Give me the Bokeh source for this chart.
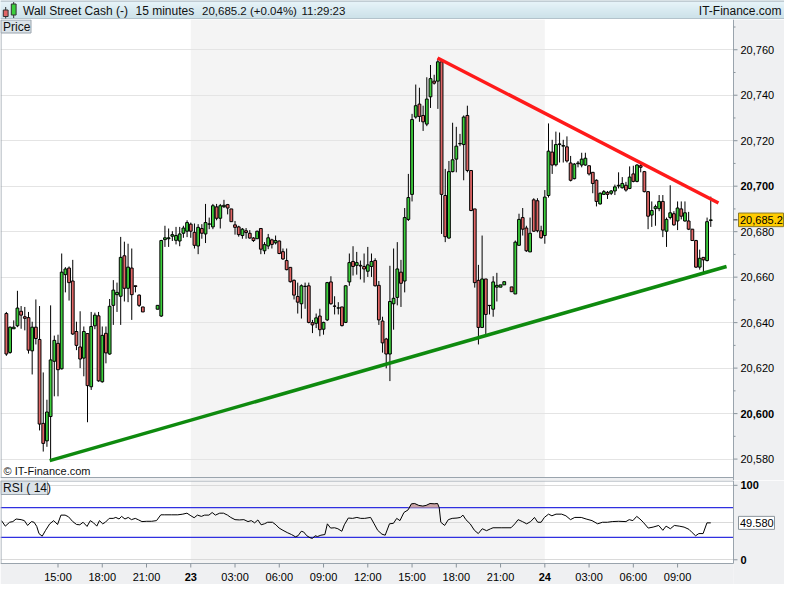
import numpy as np
from bokeh.plotting import figure
from bokeh.layouts import column
from bokeh.models import (Range1d, SingleIntervalTicker, FixedTicker, Grid,
                          Span, ColumnDataSource)
from bokeh.core.properties import value
from bokeh.embed import file_html
from bokeh.resources import INLINE

# ---------------- data (hours counted from day 22, 00:00) ----------------
times = [11.5, 11.75, 12.0, 12.25, 12.5, 12.75, 13.0, 13.25, 13.5, 13.75,
         14.0, 14.25, 14.5, 14.75, 15.0, 15.25, 15.5, 15.75, 16.0, 16.25,
         16.5, 16.75, 17.0, 17.25, 17.5, 17.75, 18.0, 18.25, 18.5, 18.75,
         19.0, 19.25, 19.5, 19.75, 20.0, 20.25, 20.5, 20.75, 21.75, 22.0,
         22.25, 22.5, 22.75, 23.0, 23.25, 23.5, 23.75, 24.0, 24.25, 24.5,
         24.75, 25.0, 25.25, 25.5, 25.75, 26.0, 26.25, 26.5, 26.75, 27.0,
         27.25, 27.5, 27.75, 28.0, 28.25, 28.5, 28.75, 29.0, 29.25, 29.5,
         29.75, 30.0, 30.25, 30.5, 30.75, 31.0, 31.25, 31.5, 31.75, 32.0,
         32.25, 32.5, 32.75, 33.0, 33.25, 33.5, 33.75, 34.0, 34.25, 34.5,
         34.75, 35.0, 35.25, 35.5, 35.75, 36.0, 36.25, 36.5, 36.75, 37.0,
         37.25, 37.5, 37.75, 38.0, 38.25, 38.5, 38.75, 39.0, 39.25, 39.5,
         39.75, 40.0, 40.25, 40.5, 40.75, 41.0, 41.25, 41.5, 41.75, 42.0,
         42.25, 42.5, 42.75, 43.0, 43.25, 43.5, 43.75, 44.0, 44.25, 44.5,
         44.75, 45.0, 45.25, 45.75, 46.0, 46.25, 46.5, 46.75, 47.0, 47.25,
         47.5, 47.75, 48.0, 48.25, 48.5, 48.75, 49.0, 49.25, 49.5, 49.75,
         50.0, 50.25, 50.5, 50.75, 51.0, 51.25, 51.5, 51.75, 52.0, 52.25,
         52.5, 52.75, 53.0, 53.25, 53.5, 53.75, 54.0, 54.25, 54.5, 54.75,
         55.0, 55.25, 55.5, 55.75, 56.0, 56.25, 56.5, 56.75, 57.0, 57.25,
         57.5, 57.75, 58.0, 58.25, 58.5, 58.75, 59.0, 59.25]

opens = [20644.0, 20626.9, 20637.3, 20638.6, 20645.0, 20642.6, 20642.2, 20627.6, 20638.0, 20632.6,
         20595.7, 20588.0, 20598.7, 20623.0, 20630.9, 20619.7, 20661.1, 20664.0, 20658.3, 20636.1,
         20629.3, 20624.4, 20635.2, 20611.8, 20638.6, 20643.0, 20614.0, 20635.3, 20626.2, 20647.6,
         20652.3, 20651.6, 20669.4, 20655.1, 20664.0, 20656.2, 20652.1, 20646.9, 20645.9, 20642.9,
         20676.5, 20676.9, 20678.0, 20676.2, 20675.9, 20679.3, 20680.2, 20683.3, 20679.7, 20673.7,
         20681.4, 20679.0, 20683.3, 20682.1, 20690.9, 20685.9, 20691.0, 20691.9, 20690.0, 20683.0,
         20682.1, 20678.3, 20680.4, 20679.3, 20677.2, 20676.9, 20681.4, 20671.6, 20673.7, 20676.4,
         20675.1, 20675.9, 20671.2, 20667.3, 20664.3, 20658.6, 20651.5, 20648.3, 20655.9, 20656.2,
         20640.0, 20639.7, 20642.9, 20637.1, 20641.2, 20657.9, 20647.3, 20646.4, 20646.9, 20640.1,
         20657.9, 20666.9, 20665.2, 20665.2, 20664.7, 20662.6, 20664.7, 20667.3, 20656.4, 20640.7,
         20632.8, 20626.2, 20648.3, 20651.1, 20662.2, 20658.3, 20685.4, 20696.4, 20730.4, 20736.1,
         20731.1, 20727.3, 20739.3, 20746.2, 20746.2, 20754.7, 20695.9, 20677.2, 20706.4, 20711.9,
         20718.6, 20718.3, 20731.1, 20706.9, 20690.0, 20658.6, 20637.9, 20659.2, 20647.6, 20645.9,
         20655.6, 20655.6, 20656.6, 20655.7, 20652.6, 20674.0, 20686.2, 20681.6, 20671.1, 20694.0,
         20693.6, 20680.4, 20678.3, 20695.9, 20715.0, 20709.4, 20718.3, 20717.6, 20717.3, 20710.2,
         20703.3, 20709.9, 20709.3, 20709.3, 20709.0, 20706.1, 20702.6, 20692.2, 20696.4, 20697.3,
         20696.9, 20697.9, 20700.1, 20699.3, 20700.4, 20699.0, 20705.4, 20702.1, 20709.0, 20706.4,
         20697.6, 20687.3, 20690.1, 20690.1, 20693.3, 20680.2, 20686.2, 20687.9, 20684.7, 20690.0,
         20684.7, 20684.7, 20681.1, 20676.1, 20664.4, 20668.7, 20667.3, 20684.9]

highs = [20644.7, 20638.3, 20641.0, 20654.0, 20647.3, 20646.9, 20644.7, 20640.4, 20650.2, 20647.3,
         20618.1, 20606.1, 20647.6, 20634.3, 20634.7, 20670.4, 20664.4, 20664.7, 20667.6, 20640.4,
         20645.0, 20638.3, 20635.4, 20644.7, 20644.4, 20644.7, 20638.3, 20638.3, 20650.4, 20658.7,
         20657.6, 20677.7, 20675.6, 20674.7, 20672.6, 20656.2, 20652.4, 20646.9, 20647.6, 20676.4,
         20682.6, 20681.4, 20680.2, 20682.1, 20682.1, 20682.6, 20685.0, 20684.0, 20683.6, 20683.3,
         20683.3, 20692.2, 20686.2, 20692.2, 20692.2, 20692.2, 20694.0, 20692.2, 20690.0, 20684.7,
         20682.6, 20681.6, 20681.6, 20680.7, 20677.6, 20680.4, 20681.4, 20675.4, 20679.0, 20676.9,
         20678.3, 20676.1, 20672.6, 20672.6, 20664.3, 20659.0, 20657.6, 20656.8, 20657.6, 20657.6,
         20641.2, 20644.0, 20646.1, 20640.4, 20657.9, 20660.4, 20651.6, 20649.0, 20646.9, 20656.4,
         20670.4, 20673.6, 20671.1, 20667.3, 20670.4, 20673.3, 20670.4, 20668.3, 20658.3, 20642.6,
         20633.3, 20665.0, 20672.6, 20675.4, 20667.6, 20690.4, 20705.4, 20731.8, 20744.7, 20743.3,
         20735.4, 20747.9, 20753.3, 20749.0, 20756.1, 20755.4, 20707.6, 20711.1, 20727.9, 20726.1,
         20723.0, 20731.1, 20735.4, 20706.9, 20690.0, 20665.4, 20678.3, 20659.2, 20647.6, 20660.4,
         20661.9, 20656.6, 20658.0, 20655.7, 20676.1, 20687.9, 20690.4, 20682.6, 20686.2, 20694.7,
         20694.7, 20682.6, 20698.3, 20727.6, 20720.4, 20724.0, 20723.6, 20720.4, 20721.9, 20713.3,
         20710.2, 20711.1, 20714.7, 20714.7, 20709.0, 20706.1, 20703.0, 20697.3, 20698.3, 20697.9,
         20698.3, 20700.7, 20706.1, 20704.0, 20701.9, 20708.7, 20709.0, 20709.7, 20709.7, 20706.7,
         20697.9, 20693.3, 20691.9, 20696.1, 20696.1, 20686.2, 20700.4, 20689.0, 20693.3, 20693.3,
         20693.3, 20688.7, 20681.1, 20676.4, 20672.1, 20668.7, 20686.2, 20695.4]

lows = [20625.4, 20626.3, 20637.3, 20638.0, 20637.3, 20636.6, 20626.4, 20617.2, 20630.4, 20592.6,
        20583.3, 20585.4, 20579.3, 20607.6, 20607.6, 20619.4, 20653.3, 20649.7, 20634.6, 20627.9,
        20620.0, 20616.4, 20596.2, 20610.4, 20637.1, 20614.0, 20613.6, 20622.1, 20625.9, 20639.0,
        20644.7, 20639.0, 20649.3, 20649.0, 20641.2, 20653.3, 20646.9, 20644.7, 20645.9, 20642.5,
        20673.3, 20673.3, 20675.9, 20674.4, 20673.6, 20677.3, 20677.6, 20677.3, 20672.6, 20670.1,
        20676.9, 20675.0, 20681.1, 20681.1, 20685.0, 20681.4, 20690.4, 20687.6, 20684.4, 20678.7,
        20677.8, 20676.9, 20676.9, 20676.9, 20675.5, 20676.9, 20670.1, 20670.1, 20672.3, 20672.6,
        20674.4, 20670.1, 20667.6, 20663.0, 20657.6, 20650.2, 20644.0, 20641.8, 20646.1, 20639.7,
        20635.4, 20637.6, 20634.0, 20634.7, 20640.7, 20647.9, 20643.6, 20643.6, 20638.3, 20639.8,
        20656.2, 20660.7, 20661.1, 20659.0, 20657.6, 20660.1, 20660.1, 20655.9, 20639.0, 20626.8,
        20619.9, 20614.3, 20636.9, 20647.6, 20646.9, 20653.3, 20684.7, 20693.3, 20729.7, 20728.3,
        20724.3, 20726.4, 20734.4, 20744.7, 20734.0, 20679.0, 20675.4, 20676.9, 20706.1, 20706.1,
        20717.6, 20702.6, 20706.1, 20689.0, 20655.4, 20630.4, 20637.6, 20634.7, 20643.6, 20642.6,
        20649.3, 20655.6, 20656.6, 20653.6, 20652.6, 20674.0, 20678.3, 20671.1, 20671.1, 20679.9,
        20679.7, 20676.9, 20674.7, 20695.0, 20705.4, 20708.7, 20710.4, 20710.4, 20710.4, 20702.1,
        20703.0, 20708.3, 20708.3, 20709.0, 20704.7, 20696.9, 20691.1, 20691.9, 20696.1, 20694.4,
        20696.1, 20696.1, 20699.0, 20699.0, 20697.6, 20698.7, 20701.7, 20701.7, 20706.1, 20697.3,
        20681.1, 20682.1, 20682.6, 20689.0, 20677.6, 20673.3, 20685.4, 20682.6, 20680.7, 20685.4,
        20684.4, 20680.7, 20675.9, 20664.0, 20663.3, 20661.9, 20666.9, 20682.1]

closes = [20626.2, 20638.0, 20638.0, 20646.4, 20643.3, 20641.9, 20627.9, 20638.0, 20633.0, 20595.4,
          20586.9, 20600.7, 20623.6, 20632.2, 20619.3, 20662.2, 20663.6, 20657.6, 20635.0, 20630.0,
          20624.0, 20636.1, 20612.3, 20638.3, 20643.3, 20614.4, 20634.4, 20626.7, 20647.2, 20654.3,
          20653.3, 20668.7, 20655.1, 20664.4, 20652.3, 20655.9, 20647.6, 20644.7, 20647.6, 20676.1,
          20677.3, 20677.3, 20678.7, 20678.3, 20679.0, 20681.6, 20684.0, 20680.2, 20674.0, 20681.9,
          20679.3, 20684.0, 20683.4, 20691.4, 20685.9, 20691.4, 20691.6, 20690.4, 20684.4, 20681.9,
          20678.7, 20681.1, 20679.6, 20677.2, 20676.1, 20680.2, 20672.3, 20674.3, 20677.3, 20674.4,
          20676.1, 20670.4, 20668.0, 20663.3, 20658.0, 20652.1, 20649.0, 20656.2, 20656.0, 20640.1,
          20639.0, 20642.1, 20636.9, 20640.1, 20657.6, 20648.3, 20647.2, 20646.5, 20638.7, 20656.2,
          20666.4, 20664.7, 20666.4, 20664.9, 20663.6, 20665.4, 20666.9, 20656.2, 20641.2, 20631.1,
          20626.2, 20649.3, 20650.7, 20663.6, 20657.3, 20686.2, 20695.0, 20729.3, 20735.4, 20730.7,
          20728.3, 20738.3, 20747.3, 20745.3, 20754.7, 20696.4, 20677.8, 20706.4, 20711.6, 20717.6,
          20718.8, 20730.4, 20706.9, 20689.3, 20657.6, 20637.9, 20659.2, 20643.6, 20647.5, 20657.9,
          20656.4, 20656.6, 20658.0, 20653.6, 20675.4, 20685.4, 20681.1, 20671.6, 20679.3, 20680.2,
          20680.4, 20677.3, 20695.2, 20715.4, 20709.3, 20718.3, 20718.6, 20717.9, 20711.1, 20702.6,
          20709.7, 20710.2, 20711.9, 20712.3, 20705.4, 20701.2, 20693.3, 20696.9, 20697.6, 20696.4,
          20697.9, 20699.7, 20700.4, 20701.2, 20698.3, 20704.0, 20702.1, 20709.3, 20708.3, 20697.6,
          20686.8, 20689.3, 20691.0, 20693.3, 20680.7, 20685.4, 20688.3, 20683.0, 20690.4, 20686.8,
          20688.3, 20681.1, 20676.1, 20664.4, 20668.3, 20667.6, 20684.4, 20685.2]

# trend lines drawn on the chart
red_t, red_p = [40.73, 59.77], [20756.4, 20692.6]
green_t, green_p = [14.44, 60.32], [20579.3, 20664.7]

# RSI(14) line vertices
rsi_t = [11.17, 11.43, 11.72, 11.94, 12.16, 12.50, 12.72, 12.94, 13.20, 13.38,
         13.56, 13.71, 13.93, 14.16, 14.44, 14.71, 14.97, 15.20, 15.48, 15.71,
         16.00, 16.26, 16.48, 16.70, 16.97, 17.19, 17.41, 17.63, 17.81, 18.03,
         18.21, 18.47, 18.74, 18.92, 19.14, 19.31, 19.54, 19.76, 19.98, 20.24,
         20.47, 20.69, 21.02, 21.35, 21.68, 21.97, 22.24, 22.68, 23.12, 23.46,
         23.74, 24.01, 24.23, 24.45, 24.72, 24.94, 25.23, 25.45, 25.67, 25.96,
         26.22, 26.49, 26.71, 27.00, 27.29, 27.60, 27.88, 28.10, 28.33, 28.55,
         28.77, 28.99, 29.21, 29.54, 29.77, 29.99, 30.25, 30.54, 30.83, 31.09,
         31.27, 31.49, 31.65, 31.87, 32.09, 32.25, 32.42, 32.60, 32.82, 33.09,
         33.26, 33.48, 33.75, 33.97, 34.24, 34.41, 34.68, 34.97, 35.26, 35.52,
         35.79, 36.19, 36.41, 36.67, 36.96, 37.18, 37.47, 37.74, 37.96, 38.18,
         38.45, 38.73, 38.96, 39.18, 39.46, 39.73, 39.95, 40.22, 40.50, 40.73,
         40.84, 40.95, 41.21, 41.46, 41.72, 42.05, 42.28, 42.45, 42.65, 42.94,
         43.23, 43.49, 43.76, 44.05, 44.33, 44.49, 45.04, 45.71, 45.97, 46.19,
         46.48, 46.77, 47.04, 47.30, 47.52, 47.75, 47.97, 48.25, 48.48, 48.76,
         49.14, 49.43, 49.74, 50.03, 50.47, 50.80, 51.20, 51.58, 51.91, 52.24,
         52.57, 53.01, 53.50, 53.72, 53.97, 54.23, 54.45, 54.67, 55.01, 55.34,
         55.72, 56.00, 56.22, 56.51, 56.78, 57.11, 57.44, 57.77, 57.99, 58.22,
         58.44, 58.73, 58.99, 59.25]
rsi_v = [52.6, 45.2, 50.4, 51.3, 54.8, 53.9, 52.6, 46.1, 51.3, 50.4,
         44.8, 35.2, 31.7, 39.6, 48.3, 52.6, 47.4, 60.0, 60.0, 57.8,
         51.3, 47.4, 47.0, 50.4, 44.8, 52.6, 49.6, 45.2, 52.6, 48.3,
         50.4, 55.6, 55.6, 56.9, 54.8, 58.3, 54.8, 56.9, 53.9, 55.6,
         53.5, 51.3, 51.7, 51.7, 52.6, 60.4, 60.4, 60.4, 60.4, 61.3,
         62.6, 59.1, 56.5, 60.0, 58.3, 60.0, 60.0, 63.5, 60.0, 62.6,
         62.6, 60.0, 56.9, 53.9, 53.5, 53.9, 51.3, 52.6, 49.6, 53.5,
         47.0, 48.3, 50.4, 50.4, 47.0, 42.6, 39.6, 36.5, 33.9, 30.9,
         32.2, 38.3, 37.4, 32.2, 29.6, 28.7, 32.2, 31.3, 33.0, 33.9,
         48.3, 42.6, 43.0, 41.7, 38.3, 47.0, 56.1, 55.6, 56.9, 55.6,
         55.6, 56.9, 49.1, 39.6, 34.4, 33.0, 48.3, 49.0, 55.6, 52.6,
         63.5, 67.0, 75.2, 75.6, 73.0, 72.2, 73.0, 75.6, 75.2, 75.6,
         70.0, 50.4, 46.1, 53.9, 55.6, 56.1, 56.9, 60.0, 53.9, 48.3,
         39.6, 35.2, 41.7, 39.1, 41.7, 43.0, 43.0, 43.0, 48.3, 53.9,
         51.3, 48.3, 51.3, 56.9, 50.4, 50.4, 56.9, 61.3, 59.1, 61.3,
         61.3, 59.1, 53.9, 56.9, 56.9, 54.8, 52.6, 48.3, 50.4, 50.4,
         51.3, 51.7, 51.3, 53.9, 52.6, 58.3, 54.8, 50.4, 42.6, 43.9,
         46.1, 39.6, 45.2, 41.7, 46.1, 45.2, 43.9, 40.9, 36.5, 32.2,
         35.2, 35.2, 49.6, 49.58]

# axis ticks and labels
price_ticks = [20580, 20600, 20620, 20640, 20660, 20680, 20700, 20720, 20740, 20760]
price_labels = ["20,580", "20,600", "20,620", "20,640", "20,660", "20,680", "20,700",
                "20,720", "20,740", "20,760"]
price_bold = [20600, 20700]
price_minor = [20590, 20610, 20630, 20650, 20670, 20690, 20710, 20730, 20750, 20770]
rsi_ticks, rsi_labels = [0, 100], ["0", "100"]
rsi_levels = [30, 70]
tick_hours = [15, 18, 21, 24, 27, 30, 33, 36, 39, 42, 45, 48, 51, 54, 57]
tick_text = ["15:00", "18:00", "21:00", "23", "03:00", "06:00", "09:00", "12:00",
             "15:00", "18:00", "21:00", "24", "03:00", "06:00", "09:00"]
day_ticks = [24, 48]
day23 = (24, 48)
last_price, last_price_text = 20685.2, "20,685.2"
last_rsi, last_rsi_text = 49.58, "49.580"

# ---------------- geometry / styling ----------------
FONT = "Liberation Sans"
W = 784
PXH = 14.752                 # pixels per hour
X0 = 11.17                   # first hour at the plot's left edge
XA = X0 - 1 / PXH            # figure left edge
XB = X0 + 783 / PXH          # figure right edge
X1 = X0 + 732 / PXH          # right edge of plotting area (axis panel starts)
Y0, Y1 = 20571.9, 20773.3    # price range of the main panel
PPP = (Y1 - Y0) / 458        # price per pixel
YA = Y1 - 461 * PPP
R0, R1 = -5.0, 106.5
RPP = (R1 - R0) / 83
RA = R1 - 104 * RPP
BORDER = "#eff0f2"
EDGE = "#9aa4ad"
TICK = "#8a949c"
GREEN, RED = "#3ccf3c", "#e06666"
F = value(FONT)


def mx(px):
    return XA + px / PXH


def ax_x(px):
    return X1 + px / PXH


xr = Range1d(XA, XB)

# ---- header bar ----
hd = figure(width=W, height=19, x_range=Range1d(0, W), y_range=Range1d(19, 0),
            x_axis_location=None, y_axis_location=None, toolbar_location=None,
            output_backend="svg", min_border=0, outline_line_color=None,
            background_fill_color="#dcedf3", border_fill_color="#dcedf3")
hd.xgrid.visible = False
hd.ygrid.visible = False
c0 = np.array([236, 248, 252]); c1 = np.array([197, 220, 229])
rows = np.arange(19)
cols = ["#%02x%02x%02x" % tuple((c0 + (c1 - c0) * i / 18).astype(int)) for i in rows]
hd.quad(left=0, right=W, top=rows, bottom=rows + 1, fill_color=cols, line_color=None)
hd.segment(x0=[0, 0], y0=[0.5, 18.5], x1=[W, W], y1=[0.5, 18.5], line_color=EDGE, line_width=1)
hd.segment(x0=[5.2, 13.2], y0=[6.5, 1.5], x1=[5.2, 13.2], y1=[18, 17.5], line_color="#333333")
hd.quad(left=[2.8, 10.8], right=[7.6, 15.6], top=[9.5, 3.5], bottom=[16, 14.5],
        fill_color=[RED, GREEN], line_color="#333333")
hd.text(x=[22.5, 135], y=[10, 10], text=["Wall Street Cash (-)", "15 minutes"],
        text_font=F, text_font_size="12px", text_baseline="middle", text_color="#111111")
hd.text(x=[201.5, 301], y=[10, 10], text=["20,685.2 (+0.04%)", "11:29:23"],
        text_font=F, text_font_size="11.5px", text_baseline="middle", text_color="#111111")
hd.text(x=[781], y=[10], text=["IT-Finance.com"], text_font=F, text_font_size="12px",
        text_baseline="middle", text_align="right", text_color="#111111")

# ---- main price chart ----
p = figure(width=W, height=461, x_range=xr, y_range=Range1d(YA, Y1),
           x_axis_location=None, y_axis_location=None, toolbar_location=None,
           output_backend="svg", min_border=0, outline_line_color=None,
           background_fill_color="white", border_fill_color=BORDER)
p.xgrid.visible = False
p.ygrid.visible = False
p.add_layout(Grid(dimension=1, ticker=SingleIntervalTicker(interval=20),
                  grid_line_color="#e4e4e4"))
p.quad(left=[day23[0]], right=[day23[1]], bottom=[Y0], top=[Y1],
       fill_color="#f4f4f4", line_color=None, level="image")

tops = [max(o, c) for o, c in zip(opens, closes)]
bots = [min(o, c) for o, c in zip(opens, closes)]
colors = [GREEN if c > o else RED for o, c in zip(opens, closes)]
src = ColumnDataSource(dict(t=times, o=opens, h=highs, l=lows, c=closes,
                            top=tops, bottom=bots, color=colors))
p.segment(x0="t", y0="h", x1="t", y1="l", line_color="black", line_width=1, source=src)
p.vbar(x="t", width=0.19, top="top", bottom="bottom", fill_color="color",
       line_color="black", line_width=1, source=src)

p.line(red_t, red_p, line_color="#ff1a1a", line_width=3.5)
p.line(green_t, green_p, line_color="#0e8a0e", line_width=3.5)

# right-hand price scale panel and frame edges
p.quad(left=[X1], right=[XB], bottom=[YA], top=[Y1], fill_color=BORDER, line_color=None)
p.quad(left=[XA], right=[X1], bottom=[YA], top=[Y0], fill_color=BORDER, line_color=None)
p.segment(x0=[X1, XA, mx(0.5)], y0=[YA, Y0, Y0], x1=[X1, X1, mx(0.5)], y1=[Y1, Y0, Y1],
          line_color=EDGE, line_width=1)
p.segment(x0=[X1] * len(price_ticks), y0=price_ticks,
          x1=[ax_x(4)] * len(price_ticks), y1=price_ticks, line_color=TICK)
p.segment(x0=[X1] * len(price_minor), y0=price_minor,
          x1=[ax_x(2)] * len(price_minor), y1=price_minor, line_color=TICK)
norm = [(v, t) for v, t in zip(price_ticks, price_labels) if v not in price_bold]
bold = [(v, t) for v, t in zip(price_ticks, price_labels) if v in price_bold]
p.text(x=[ax_x(7)] * len(norm), y=[v for v, _ in norm], text=[t for _, t in norm],
       text_font=F, text_font_size="11px", text_baseline="middle", text_color="#000000")
p.text(x=[ax_x(7)] * len(bold), y=[v for v, _ in bold], text=[t for _, t in bold],
       text_font=F, text_font_size="11px", text_font_style="bold",
       text_baseline="middle", text_color="#000000")
# current price marker
p.segment(x0=[X1], y0=[last_price], x1=[ax_x(4)], y1=[last_price], line_color="#333333")
p.quad(left=[ax_x(5)], right=[ax_x(50)], bottom=[last_price - 6.8 * PPP],
       top=[last_price + 6.8 * PPP], fill_color="#ffcc00", line_color="#8c7a2a")
p.text(x=[ax_x(6.5)], y=[last_price], text=[last_price_text], text_font=F,
       text_font_size="11px", text_baseline="middle", text_color="#000000")
# panel caption and copyright
p.quad(left=[mx(0.5)], right=[mx(30.5)], top=[Y1 - 0.5 * PPP], bottom=[Y1 - 13.5 * PPP],
       fill_color="#dbe3e9", line_color=EDGE)
p.text(x=[mx(2.5)], y=[Y1 - 7 * PPP], text=["Price"], text_font=F, text_font_size="12px",
       text_baseline="middle", text_color="#111111")
p.text(x=[mx(3)], y=[Y0 + 6.5 * PPP], text=["\u00a9 IT-Finance.com"], text_font=F,
       text_font_size="11px", text_baseline="middle", text_color="#111111")

# ---- RSI panel with time scale ----
r = figure(width=W, height=104, x_range=xr, y_range=Range1d(RA, R1),
           x_axis_location=None, y_axis_location=None, toolbar_location=None,
           output_backend="svg", min_border=0, outline_line_color=None,
           background_fill_color="white", border_fill_color=BORDER)
r.xgrid.visible = False
r.ygrid.visible = False
r.add_layout(Grid(dimension=1, ticker=FixedTicker(ticks=[0, 50, 100]),
                  grid_line_color="#dadada"))
r.quad(left=[day23[0]], right=[day23[1]], bottom=[R0], top=[R1],
       fill_color="#f4f4f4", line_color=None, level="image")
for lv in rsi_levels:
    r.add_layout(Span(location=lv, dimension="width", line_color="#3030e0",
                      line_width=1.2, level="underlay"))
r.varea(x=rsi_t, y1=[70] * len(rsi_t), y2=list(np.maximum(rsi_v, 70)),
        fill_color="#c79c9c", fill_alpha=0.9)
r.line(rsi_t, rsi_v, line_color="black", line_width=1)

r.quad(left=[X1], right=[XB], bottom=[RA], top=[R1], fill_color=BORDER, line_color=None)
r.quad(left=[XA], right=[X1], bottom=[RA], top=[R0], fill_color=BORDER, line_color=None)
r.segment(x0=[X1, XA, XA, mx(0.5)], y0=[R0, R0, R1 - 0.5 * RPP, R0],
          x1=[X1, X1, X1, mx(0.5)], y1=[R1, R0, R1 - 0.5 * RPP, R1],
          line_color=EDGE, line_width=1)
r.segment(x0=[X1] * 2, y0=rsi_ticks, x1=[ax_x(4)] * 2, y1=rsi_ticks, line_color=TICK)
r.text(x=[ax_x(7)] * 2, y=rsi_ticks, text=rsi_labels, text_font=F, text_font_size="11px",
       text_font_style="bold", text_baseline="middle", text_color="#000000")
r.quad(left=[ax_x(5)], right=[ax_x(41)], bottom=[last_rsi - 6.5 * RPP],
       top=[last_rsi + 6.5 * RPP], fill_color="white", line_color=TICK)
r.text(x=[ax_x(6.5)], y=[last_rsi], text=[last_rsi_text], text_font=F,
       text_font_size="11px", text_baseline="middle", text_color="#000000")
r.quad(left=[mx(0.5)], right=[mx(47)], top=[R1 - 0.5 * RPP], bottom=[R1 - 14 * RPP],
       fill_color="#dbe3e9", line_color=EDGE)
r.text(x=[mx(2.5)], y=[R1 - 7.3 * RPP], text=["RSI ( 14)"], text_font=F,
       text_font_size="12px", text_baseline="middle", text_color="#111111")

# time scale
r.segment(x0=tick_hours, y0=[R0] * len(tick_hours), x1=tick_hours,
          y1=[R0 - 4 * RPP] * len(tick_hours), line_color=TICK)
tn = [(h, t) for h, t in zip(tick_hours, tick_text) if h not in day_ticks]
tb = [(h, t) for h, t in zip(tick_hours, tick_text) if h in day_ticks]
r.text(x=[h for h, _ in tn], y=[R0 - 13 * RPP] * len(tn), text=[t for _, t in tn],
       text_font=F, text_font_size="11px", text_align="center", text_baseline="middle",
       text_color="#000000")
r.text(x=[h for h, _ in tb], y=[R0 - 13 * RPP] * len(tb), text=[t for _, t in tb],
       text_font=F, text_font_size="11px", text_font_style="bold", text_align="center",
       text_baseline="middle", text_color="#000000")

layout = column(hd, p, r, spacing=0)
open("out.html", "w").write(file_html(layout, INLINE))
